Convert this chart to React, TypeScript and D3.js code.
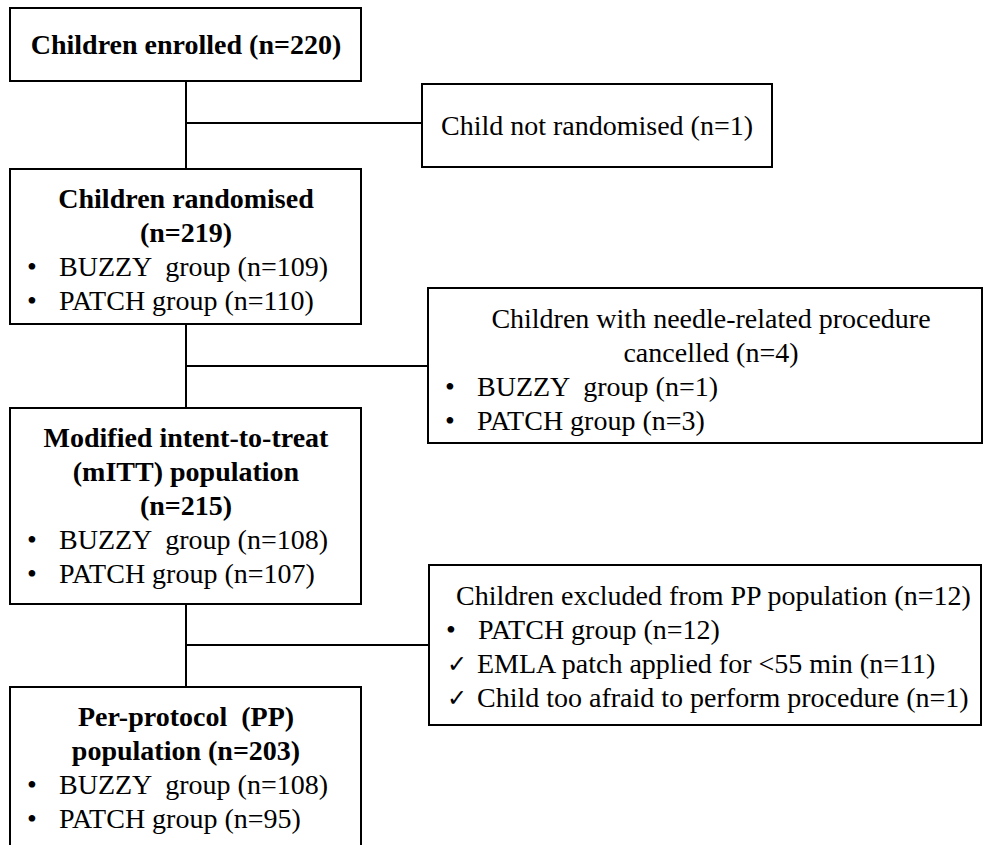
import React, { useEffect, useRef } from "react";
import * as d3 from "d3";

const WIDTH = 983;
const HEIGHT = 845;
const FONT = "'Liberation Serif', 'Times New Roman', serif";
const FONT_SIZE = 28;
const LINE_STEP = 34;
const FIRST_BASELINE = 39;
const SPINE_X = 186;

// flow stages (left column)
const STAGE_TITLES = [
  ["Children enrolled (n=220)"],
  ["Children randomised", "(n=219)"],
  ["Modified intent-to-treat", "(mITT) population", "(n=215)"],
  ["Per-protocol  (PP)", "population (n=203)"],
];
const STAGE_BUZZY = [null, 109, 108, 108];
const STAGE_PATCH = [null, 110, 107, 95];

// exclusion boxes (right column)
const EXCL_TITLES = [
  ["Child not randomised (n=1)"],
  ["Children with needle-related procedure", "cancelled (n=4)"],
  ["Children excluded from PP population (n=12)"],
];
const EXCL_BUZZY = [null, 1, null];
const EXCL_PATCH = [null, 3, 12];
const EXCL_REASONS = [[], [], ["EMLA patch applied for <55 min (n=11)", "Child too afraid to perform procedure (n=1)"]];

// layout
const STAGE_BOX = [
  { x: 10, y: 8, w: 351, h: 73 },
  { x: 10, y: 169, w: 351, h: 155 },
  { x: 10, y: 408, w: 351, h: 196 },
  { x: 10, y: 687, w: 351, h: 200 },
];
const EXCL_BOX = [
  { x: 422, y: 84, w: 350, h: 83, textX: 597, anchor: "middle" },
  { x: 428, y: 288, w: 554, h: 155, textX: 711, anchor: "middle" },
  { x: 429, y: 565, w: 552, h: 160, textX: 456, anchor: "start" },
];
const BRANCH_Y = [123, 366, 645];

export default function App() {
  const ref = useRef<SVGSVGElement>(null);

  useEffect(() => {
    document.body.style.margin = "0";
    const svg = d3.select(ref.current);
    svg.selectAll("*").remove();
    svg.append("rect").attr("width", WIDTH).attr("height", HEIGHT).attr("fill", "#fff");

    const g = svg
      .append("g")
      .attr("font-family", FONT)
      .attr("font-size", FONT_SIZE)
      .attr("fill", "#000");

    const addText = (x: number, y: number, s: string) =>
      g.append("text").attr("xml:space", "preserve").attr("x", x).attr("y", y).text(s);

    // connectors
    const path = d3.path();
    for (let i = 0; i < STAGE_BOX.length - 1; i++) {
      path.moveTo(SPINE_X, STAGE_BOX[i].y + STAGE_BOX[i].h);
      path.lineTo(SPINE_X, STAGE_BOX[i + 1].y);
      path.moveTo(SPINE_X, BRANCH_Y[i]);
      path.lineTo(EXCL_BOX[i].x, BRANCH_Y[i]);
    }
    g.append("path")
      .attr("d", path.toString())
      .attr("fill", "none")
      .attr("stroke", "#000")
      .attr("stroke-width", 2);

    const drawBox = (b: { x: number; y: number; w: number; h: number }) => {
      g.append("rect")
        .attr("x", b.x)
        .attr("y", b.y)
        .attr("width", b.w)
        .attr("height", b.h)
        .attr("fill", "none")
        .attr("stroke", "#000")
        .attr("stroke-width", 2);
    };

    const bullet = (x: number, y: number, label: string, textX: number) => {
      addText(x, y, "•");
      addText(textX, y, label);
    };

    // left column
    STAGE_BOX.forEach((b, i) => {
      drawBox(b);
      const titles = STAGE_TITLES[i];
      let y = titles.length === 1 && STAGE_BUZZY[i] === null ? b.y + b.h / 2 + 9 : b.y + FIRST_BASELINE;
      titles.forEach((t) => {
        addText(SPINE_X, y, t).attr("text-anchor", "middle").attr("font-weight", "bold");
        y += LINE_STEP;
      });
      if (STAGE_BUZZY[i] !== null) {
        bullet(27, y, `BUZZY  group (n=${STAGE_BUZZY[i]})`, 59);
        y += LINE_STEP;
      }
      if (STAGE_PATCH[i] !== null) {
        bullet(27, y, `PATCH group (n=${STAGE_PATCH[i]})`, 59);
      }
    });

    // right column
    EXCL_BOX.forEach((b, i) => {
      drawBox(b);
      const titles = EXCL_TITLES[i];
      const single = titles.length === 1 && EXCL_PATCH[i] === null;
      let y = single ? b.y + b.h / 2 + 9 : b.y + FIRST_BASELINE + 1;
      titles.forEach((t) => {
        addText(b.textX, y, t).attr("text-anchor", b.anchor);
        y += LINE_STEP;
      });
      const bx = b.x + 17;
      const tx = b.x + 49;
      if (EXCL_BUZZY[i] !== null) {
        bullet(bx, y, `BUZZY  group (n=${EXCL_BUZZY[i]})`, tx);
        y += LINE_STEP;
      }
      if (EXCL_PATCH[i] !== null) {
        bullet(bx, y, `PATCH group (n=${EXCL_PATCH[i]})`, tx);
        y += LINE_STEP;
      }
      EXCL_REASONS[i].forEach((r) => {
        addText(b.x + 18, y - 1, "✓")
          .attr("font-size", 24)
          .attr("font-family", "'DejaVu Sans', sans-serif");
        addText(b.x + 48, y, r);
        y += LINE_STEP;
      });
    });
  }, []);

  return <svg ref={ref} width={WIDTH} height={HEIGHT} style={{ display: "block" }} />;
}
